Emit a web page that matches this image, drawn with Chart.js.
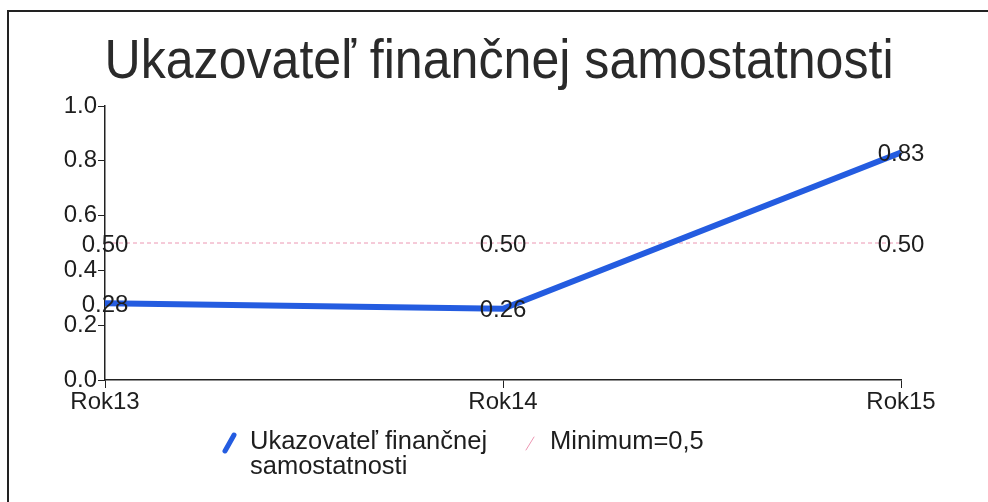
<!DOCTYPE html>
<html>
<head>
<meta charset="utf-8">
<script src="https://cdn.jsdelivr.net/npm/chart.js@4"></script>
<style>
  html, body { margin: 0; padding: 0; background: #fff; }
  #wrap { position: relative; width: 988px; height: 502px; }
</style>
</head>
<body>
<div id="wrap"><canvas id="ratioChart" width="988" height="502"></canvas></div>
<script>
const years = ['Rok13', 'Rok14', 'Rok15'];
const ratioValues = [0.28, 0.26, 0.83];
const minimumValues = [0.5, 0.5, 0.5];
const yTicks = [0, 0.2, 0.4, 0.6, 0.8, 1.0];

const titleText = 'Ukazovateľ finančnej samostatnosti';
const ratioLabel = ['Ukazovateľ finančnej', 'samostatnosti'];
const minimumLabel = 'Minimum=0,5';

const blue = 'rgb(36, 92, 224)';
const pink = 'rgb(236, 150, 178)';
const ink = '#1e1e1e';
const font = '"Liberation Sans", Arial, sans-serif';

// frame, title, value labels and legend
const extras = {
    id: 'extras',
    afterDraw(chart) {
        const ctx = chart.ctx;
        ctx.save();
        ctx.strokeStyle = '#222';
        ctx.lineWidth = 2;
        ctx.beginPath();
        ctx.moveTo(8, 502);
        ctx.lineTo(8, 11);
        ctx.lineTo(988, 11);
        ctx.stroke();

        ctx.fillStyle = '#2a2a2a';
        ctx.textAlign = 'center';
        ctx.textBaseline = 'alphabetic';
        ctx.font = '56px ' + font;
        ctx.translate(499, 78);
        ctx.scale(0.895, 1);
        ctx.fillText(titleText, 0, 0);
        ctx.setTransform(1, 0, 0, 1, 0, 0);

        ctx.font = '24px ' + font;
        ctx.fillStyle = ink;
        ctx.textBaseline = 'middle';
        chart.data.datasets.forEach((ds, i) => {
            chart.getDatasetMeta(i).data.forEach((pt, j) => {
                ctx.fillText(ds.data[j].toFixed(2), pt.x, pt.y + 2);
            });
        });

        // legend
        ctx.lineCap = 'round';
        ctx.strokeStyle = blue;
        ctx.lineWidth = 5;
        ctx.beginPath();
        ctx.moveTo(225, 451);
        ctx.lineTo(234, 435);
        ctx.stroke();
        ctx.strokeStyle = pink;
        ctx.lineWidth = 1;
        ctx.beginPath();
        ctx.moveTo(526, 450);
        ctx.lineTo(534, 437);
        ctx.stroke();

        ctx.textAlign = 'left';
        ctx.fillStyle = ink;
        ctx.font = '25.5px ' + font;
        ctx.fillText(ratioLabel[0], 250, 442);
        ctx.fillText(ratioLabel[1], 250, 467);
        ctx.fillText(minimumLabel, 550, 442);
        ctx.restore();
    }
};

new Chart(document.getElementById('ratioChart').getContext('2d'), {
    type: 'line',
    data: {
        labels: years,
        datasets: [{
            label: ratioLabel.join(' '),
            data: ratioValues,
            borderColor: blue,
            borderWidth: 6,
            pointRadius: 0,
            tension: 0,
            fill: false
        }, {
            label: minimumLabel,
            data: minimumValues,
            borderColor: pink,
            borderWidth: 1,
            borderDash: [4, 3],
            pointRadius: 0,
            fill: false
        }]
    },
    options: {
        responsive: false,
        animation: false,
        layout: { padding: { left: 0, right: 87, top: 106, bottom: 80 } },
        plugins: {
            legend: { display: false },
            title: { display: false },
            tooltip: { enabled: false }
        },
        scales: {
            x: {
                offset: false,
                afterFit(scale) { scale.height = 42; },
                grid: { drawOnChartArea: false, color: '#222', tickLength: 8 },
                border: { color: '#222', width: 1.5 },
                ticks: { color: ink, font: { family: font, size: 24 }, padding: 0, maxRotation: 0 }
            },
            y: {
                min: 0,
                max: 1,
                afterFit(scale) { scale.width = 105; },
                afterBuildTicks(scale) { scale.ticks = yTicks.map(v => ({ value: v })); },
                grid: { drawOnChartArea: false, color: '#222', tickLength: 7 },
                border: { color: '#222', width: 1.5 },
                ticks: {
                    color: ink,
                    font: { family: font, size: 24 },
                    padding: 1,
                    callback: v => v.toFixed(1)
                }
            }
        }
    },
    plugins: [extras]
});
</script>
</body>
</html>
